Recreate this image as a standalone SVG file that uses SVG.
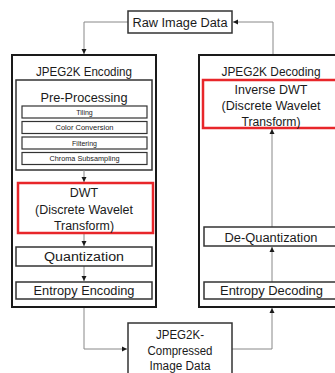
<svg xmlns="http://www.w3.org/2000/svg" width="335" height="373" viewBox="0 0 335 373">
<style>
text{font-family:"Liberation Sans",Arial,sans-serif;fill:#1a1a1a;text-anchor:middle}
.t{font-size:12.5px}
.h{font-size:13px}
.s{font-size:7px}
.outer{fill:#fff;stroke:#1a1a1a;stroke-width:2}
.box{fill:#fff;stroke:#333;stroke-width:1.5}
.sub{fill:#fff;stroke:#333;stroke-width:1.2}
.red{fill:#fff;stroke:#e8262a;stroke-width:2.5}
.c{fill:none;stroke:#888;stroke-width:1}
</style>
<defs>
<marker id="a" markerWidth="6" markerHeight="6" refX="5" refY="3" orient="auto" markerUnits="userSpaceOnUse">
<path d="M0,0.5 L5,3 L0,5.5 Z" fill="#1a1a1a"/>
</marker>
</defs>
<rect width="335" height="373" fill="#fff"/>
<g id="connectors">
<path class="c" d="M128,22 H84 V54" marker-end="url(#a)"/>
<path class="c" d="M273,55 V22 H233" marker-end="url(#a)"/>
<path class="c" d="M84,308 V349 H127" marker-end="url(#a)"/>
<path class="c" d="M232,349 H272 V308" marker-end="url(#a)"/>
</g>
<g id="raw">
<rect x="128" y="11" width="104" height="22" class="box"/>
<text x="180" y="26.5" class="t" textLength="95" lengthAdjust="spacingAndGlyphs">Raw Image Data</text>
</g>
<g id="encoding">
<rect x="12" y="55" width="144" height="252" class="outer"/>
<text x="84" y="75.5" class="t" textLength="96" lengthAdjust="spacingAndGlyphs">JPEG2K Encoding</text>
</g>
<g id="preprocessing">
<rect x="16" y="80" width="136" height="90" class="box"/>
<text x="84" y="101.5" class="h" textLength="87" lengthAdjust="spacingAndGlyphs">Pre-Processing</text>
</g>
<g id="tiling">
<rect x="22" y="106" width="125" height="12" class="sub"/>
<text x="84.5" y="114.5" class="s">Tiling</text>
</g>
<g id="color">
<rect x="22" y="121.5" width="125" height="12" class="sub"/>
<text x="84.5" y="130" class="s" textLength="58" lengthAdjust="spacingAndGlyphs">Color Conversion</text>
</g>
<g id="filtering">
<rect x="22" y="137" width="125" height="12" class="sub"/>
<text x="84.5" y="145.5" class="s">Filtering</text>
</g>
<g id="chroma">
<rect x="22" y="152.5" width="125" height="12" class="sub"/>
<text x="84.5" y="161" class="s" textLength="70" lengthAdjust="spacingAndGlyphs">Chroma Subsampling</text>
</g>
<g id="connectors-enc">
<path class="c" d="M84,170 V182" marker-end="url(#a)"/>
<path class="c" d="M84,233 V246" marker-end="url(#a)"/>
<path class="c" d="M84,266 V281" marker-end="url(#a)"/>
</g>
<g id="dwt">
<rect x="18" y="183" width="135" height="50" class="red"/>
<text x="84" y="196.5" class="t">DWT</text>
<text x="84" y="213.5" class="t" textLength="98" lengthAdjust="spacingAndGlyphs">(Discrete Wavelet</text>
<text x="84" y="230" class="t" textLength="60" lengthAdjust="spacingAndGlyphs">Transform)</text>
</g>
<g id="quantization">
<rect x="16" y="247" width="136" height="19" class="box"/>
<text x="84" y="261" class="t" textLength="80" lengthAdjust="spacingAndGlyphs">Quantization</text>
</g>
<g id="entropy-enc">
<rect x="16" y="282" width="136" height="17" class="box"/>
<text x="84" y="294.5" class="t" textLength="101" lengthAdjust="spacingAndGlyphs">Entropy Encoding</text>
</g>
<g id="decoding">
<rect x="199" y="55" width="144" height="252" class="outer"/>
<text x="271" y="75.5" class="t" textLength="99" lengthAdjust="spacingAndGlyphs">JPEG2K Decoding</text>
</g>
<g id="connectors-dec">
<path class="c" d="M272,282 V247" marker-end="url(#a)"/>
<path class="c" d="M272,227 V129" marker-end="url(#a)"/>
</g>
<g id="idwt">
<rect x="203" y="80" width="138" height="48" class="red"/>
<text x="271" y="93.5" class="t" textLength="73" lengthAdjust="spacingAndGlyphs">Inverse DWT</text>
<text x="271" y="109.5" class="t" textLength="99" lengthAdjust="spacingAndGlyphs">(Discrete Wavelet</text>
<text x="271" y="125.5" class="t" textLength="59" lengthAdjust="spacingAndGlyphs">Transform)</text>
</g>
<g id="dequant">
<rect x="204" y="227" width="136" height="19" class="box"/>
<text x="271" y="241.5" class="t" textLength="93" lengthAdjust="spacingAndGlyphs">De-Quantization</text>
</g>
<g id="entropy-dec">
<rect x="204" y="282" width="136" height="17" class="box"/>
<text x="271.5" y="294.5" class="t" textLength="103" lengthAdjust="spacingAndGlyphs">Entropy Decoding</text>
</g>
<g id="compressed">
<rect x="128" y="323" width="104" height="60" class="box"/>
<text x="180" y="339" class="t" textLength="48" lengthAdjust="spacingAndGlyphs">JPEG2K-</text>
<text x="180" y="355" class="t" textLength="65" lengthAdjust="spacingAndGlyphs">Compressed</text>
<text x="180" y="369.5" class="t" textLength="61" lengthAdjust="spacingAndGlyphs">Image Data</text>
</g>
</svg>
